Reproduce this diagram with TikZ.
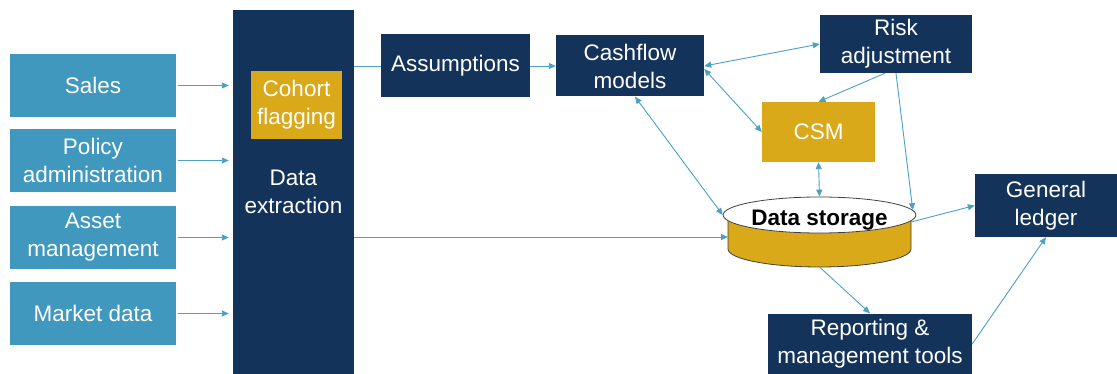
\documentclass[tikz,border=0pt]{standalone}
\usepackage{fontspec}
\setmainfont{Liberation Sans}
\usetikzlibrary{arrows.meta,shapes.geometric}
\definecolor{srcblue}{RGB}{65,152,190}
\definecolor{navy}{RGB}{20,51,90}
\definecolor{gold}{RGB}{217,169,26}
\definecolor{linkblue}{RGB}{75,160,200}
\begin{document}
\begin{tikzpicture}[x=1pt, y=-1pt, >={Triangle[length=7pt,width=6pt]},
  every node/.style={font=\fontsize{22.5}{28}\selectfont, align=center, inner sep=0pt},
  src node/.style={rectangle,fill=srcblue,text=white,minimum width=166pt,minimum height=63pt},
  dark node/.style={rectangle,fill=navy,text=white},
  gold node/.style={rectangle,fill=gold,text=white},
  link/.style={draw=linkblue, line width=0.9pt}]
\useasboundingbox (0,0) rectangle (1117,374);
\begin{scope}
\node[src node] (sales) at (93,85.5) {Sales};
\node[src node] (policy) at (93,160.5) {Policy\\administration};
\node[src node] (asset) at (93,237.5) {Asset\\management};
\node[src node] (market) at (93,313.5) {Market data};
\node[dark node, minimum width=121pt, minimum height=364pt] (extract) at (293.5,192) {Data\\extraction};
\node[gold node, minimum width=91pt, minimum height=68pt] (cohort) at (296.5,105) {Cohort\\flagging};
\node[dark node, minimum width=149pt, minimum height=63pt] (assume) at (455.5,66) {Assumptions};
\node[dark node, minimum width=148pt, minimum height=61pt] (cashflow) at (630,66) {Cashflow\\models};
\node[dark node, minimum width=152pt, minimum height=58pt] (risk) at (896,44) {Risk\\adjustment};
\node[gold node, minimum width=113pt, minimum height=60pt] (csm) at (818.5,132) {CSM};
\node[dark node, minimum width=142pt, minimum height=63pt] (ledger) at (1046,205.5) {General\\ledger};
\node[dark node, minimum width=204pt, minimum height=61pt] (report) at (870,344) {Reporting \&\\management tools};
% data storage drum
\fill[gold] (728,215) -- (728,249) arc[start angle=180, end angle=0, x radius=91.5, y radius=18] -- (911,215) -- cycle;
\draw[black!75, line width=0.8pt] (728,215) -- (728,249) arc[start angle=180, end angle=0, x radius=91.5, y radius=18] -- (911,215);
\node[ellipse, draw=black!75, line width=0.8pt, fill=white, minimum width=183pt, minimum height=36pt,
  text height=21pt, text depth=0pt,
  font=\fontsize{22.5}{26}\selectfont\bfseries] (store) at (819.5,215) {Data storage};
\coordinate (storein) at (728,237);
\coordinate (storeout) at (911,222);
\coordinate (storebot) at (819.5,267);
\end{scope}
\begin{scope}[link]
\draw[->, shorten <=2pt, shorten >=4pt] (sales) -- (extract.west |- sales);
\draw[->, shorten <=2pt, shorten >=4pt] (policy) -- (extract.west |- policy);
\draw[->, shorten <=2pt, shorten >=4pt] (asset) -- (extract.west |- asset);
\draw[->, shorten <=2pt, shorten >=4pt] (market) -- (extract.west |- market);
\draw (extract.east |- assume.west) -- (assume.west);
\draw[->] (assume) -- (cashflow);
\draw[->] (extract.east |- storein) -- (storein);
\draw[<->] (risk.west) -- (cashflow.east);
\draw[<->] ([yshift=-3pt]cashflow.east) -- (csm.west);
\draw[<->] ([xshift=5pt]cashflow.south) -- (store.west);
\draw[->] ([xshift=-11pt]risk.south) -- (csm.north);
\draw[->] (risk.south) -- (store.3);
\draw[<->] (csm.south) -- (store.north);
\draw[->] (storeout) -- (ledger.west);
\draw[->] (storebot) -- (report.north);
\draw[->] (report.east) -- (ledger.south);
\end{scope}
\end{tikzpicture}
\end{document}
